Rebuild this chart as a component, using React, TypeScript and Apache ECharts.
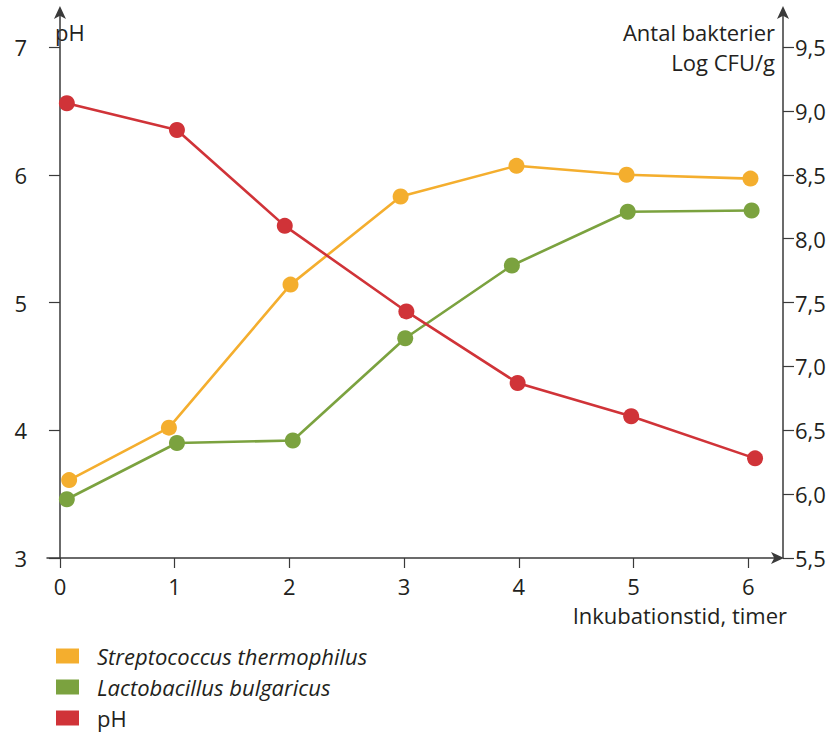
import React, { useEffect, useRef } from "react";
import * as echarts from "echarts";

// Time of measurement (hours) per series
const strepHours = [0.08, 0.95, 2.01, 2.97, 3.98, 4.94, 6.02];
const lactoHours = [0.06, 1.02, 2.03, 3.01, 3.94, 4.95, 6.03];
const phHours = [0.06, 1.02, 1.96, 3.02, 3.99, 4.98, 6.06];

// Values
const strepLog = [6.11, 6.52, 7.64, 8.33, 8.57, 8.5, 8.47];
const lactoLog = [5.96, 6.4, 6.42, 7.22, 7.79, 8.21, 8.22];
const phValues = [6.56, 6.35, 5.6, 4.93, 4.37, 4.11, 3.78];

// Tick values
const xTicks = [0, 1, 2, 3, 4, 5, 6];
const phTicks = [3, 4, 5, 6, 7];
const cfuTicks = [5.5, 6, 6.5, 7, 7.5, 8, 8.5, 9, 9.5];

const seriesNames = ["Streptococcus thermophilus", "Lactobacillus bulgaricus", "pH"];
const colors = ["#F4AE2E", "#7BA23F", "#D03338"];

const FONT = "'Open Sans', sans-serif";
const AXIS_COLOR = "#3a3a3a";
const TEXT_COLOR = "#231f20";
const FS = 22;

function pairs(xs: number[], ys: number[]) {
  return xs.map((x, i) => [x, ys[i]]);
}

export default function App() {
  const ref = useRef<HTMLDivElement>(null);
  useEffect(() => {
    if (!ref.current) return;
    const chart = echarts.init(ref.current, null, { renderer: "svg" });
    const lineStyleCommon = { width: 2.6 };
    const axisLine = {
      show: true,
      lineStyle: { color: AXIS_COLOR, width: 1.5 },
      symbol: ["none", "arrow"],
      symbolSize: [9, 13],
      symbolOffset: [0, 6],
    };
    chart.setOption({
      animation: false,
      textStyle: { fontFamily: FONT },
      grid: { left: 47, right: 61, top: 12, bottom: 175, containLabel: false },
      legend: {
        orient: "vertical",
        left: 56,
        top: 644,
        padding: 0,
        itemWidth: 23,
        itemHeight: 15,
        itemGap: 7,
        icon: "rect",
        selectedMode: false,
        textStyle: {
          fontFamily: FONT,
          fontSize: FS,
          lineHeight: 24,
          color: TEXT_COLOR,
          padding: [0, 0, 0, 13],
        },
        data: [
          { name: seriesNames[0], textStyle: { fontStyle: "italic" } },
          { name: seriesNames[1], textStyle: { fontStyle: "italic" } },
          { name: seriesNames[2] },
        ],
      },
      xAxis: {
        type: "value",
        min: -0.113,
        max: 6.26,
        splitLine: { show: false },
        axisLine: { ...axisLine },
        axisTick: {
          show: true,
          length: 10,
          customValues: xTicks,
          lineStyle: { color: AXIS_COLOR, width: 1.2 },
        },
        axisLabel: {
          customValues: xTicks,
          margin: 17,
          fontSize: FS,
          fontFamily: FONT,
          color: TEXT_COLOR,
        },
      },
      yAxis: [
        {
          type: "value",
          position: "left",
          min: 3,
          max: 7.274,
          splitLine: { show: false },
          axisLine: { ...axisLine },
          axisTick: {
            show: true,
            length: 11,
            customValues: phTicks,
            lineStyle: { color: AXIS_COLOR, width: 1.2 },
          },
          axisLabel: {
            customValues: phTicks,
            margin: 20,
            fontSize: FS,
            fontFamily: FONT,
            color: TEXT_COLOR,
          },
        },
        {
          type: "value",
          position: "right",
          offset: 5,
          min: 5.5,
          max: 9.774,
          splitLine: { show: false },
          axisLine: { ...axisLine },
          axisTick: {
            show: true,
            length: 11,
            customValues: cfuTicks,
            lineStyle: { color: AXIS_COLOR, width: 1.2 },
          },
          axisLabel: {
            customValues: cfuTicks,
            margin: 12,
            fontSize: FS,
            fontFamily: FONT,
            color: TEXT_COLOR,
            formatter: (v: number) => v.toFixed(1).replace(".", ","),
          },
        },
      ],
      graphic: [
        {
          type: "text",
          x: 55,
          y: 21,
          style: { text: "pH", font: `${FS}px ${FONT}`, fill: TEXT_COLOR },
        },
        {
          type: "text",
          x: 775,
          y: 17,
          style: {
            text: "Antal bakterier\nLog CFU/g",
            font: `${FS}px ${FONT}`,
            fill: TEXT_COLOR,
            align: "right",
            lineHeight: 30,
          },
        },
        {
          type: "text",
          x: 787,
          y: 604,
          style: {
            text: "Inkubationstid, timer",
            font: `${FS}px ${FONT}`,
            fill: TEXT_COLOR,
            align: "right",
          },
        },
      ],
      series: [
        {
          name: seriesNames[0],
          type: "line",
          yAxisIndex: 1,
          data: pairs(strepHours, strepLog),
          symbol: "circle",
          symbolSize: 16,
          color: colors[0],
          lineStyle: lineStyleCommon,
          clip: false,
        },
        {
          name: seriesNames[1],
          type: "line",
          yAxisIndex: 1,
          data: pairs(lactoHours, lactoLog),
          symbol: "circle",
          symbolSize: 16,
          color: colors[1],
          lineStyle: lineStyleCommon,
          clip: false,
        },
        {
          name: seriesNames[2],
          type: "line",
          yAxisIndex: 0,
          data: pairs(phHours, phValues),
          symbol: "circle",
          symbolSize: 16,
          color: colors[2],
          lineStyle: lineStyleCommon,
          clip: false,
        },
      ],
    });
    return () => chart.dispose();
  }, []);
  return (
    <div
      ref={ref}
      style={{ position: "absolute", left: 0, top: 0, width: 839, height: 733, background: "#fff" }}
    />
  );
}
